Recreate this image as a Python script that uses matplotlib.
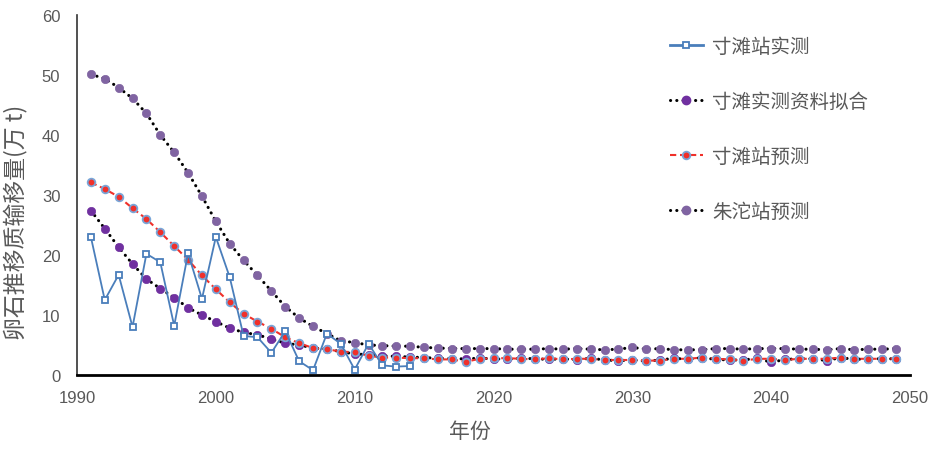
import matplotlib
matplotlib.use("Agg")
import matplotlib.pyplot as plt
from matplotlib.lines import Line2D

plt.rcParams['font.family'] = ['Noto Sans CJK SC', 'DejaVu Sans']

# ---------------- data ----------------
years_obs = list(range(1991, 2015))
cuntan_obs = [23.0, 12.5, 16.7, 8.0, 20.2, 18.8, 8.2, 20.3, 12.7, 23.0,
              16.3, 6.5, 6.3, 3.7, 7.3, 2.3, 0.8, 6.9, 5.2, 0.9,
              5.2, 1.6, 1.4, 1.5]

years_pred = list(range(1991, 2050))
cuntan_fit = [27.4, 24.4, 21.3, 18.5, 16.0, 14.4, 12.9, 11.2, 10.0, 8.9,
              7.8, 7.1, 6.7, 6.0, 5.3, 5.0, 4.5, 4.3, 3.9, 3.5,
              3.4, 3.2, 3.1, 3.0, 2.9, 2.8, 2.7, 2.7, 2.8, 2.7,
              2.6, 2.8, 2.7, 2.6, 2.7, 2.5, 2.8, 2.5, 2.4, 2.5,
              2.3, 2.5, 2.8, 2.6, 2.9, 2.6, 2.5, 2.5, 2.8, 2.1,
              2.6, 2.7, 2.7, 2.4, 2.9, 2.6, 2.7, 2.7, 2.7]
cuntan_pred = [32.1, 31.0, 29.7, 27.8, 26.0, 23.8, 21.5, 19.2, 16.6, 14.3,
               12.1, 10.2, 8.9, 7.7, 6.3, 5.3, 4.5, 4.3, 3.9, 3.8,
               3.2, 2.9, 2.9, 2.8, 2.8, 2.6, 2.6, 2.2, 2.7, 2.8,
               2.8, 2.7, 2.6, 2.8, 2.6, 2.7, 2.7, 2.5, 2.5, 2.5,
               2.4, 2.4, 2.7, 2.7, 2.9, 2.7, 2.6, 2.4, 2.7, 2.7,
               2.5, 2.7, 2.7, 2.7, 2.9, 2.7, 2.7, 2.7, 2.7]
zhutuo_pred = [50.1, 49.4, 47.9, 46.1, 43.6, 40.0, 37.1, 33.7, 29.8, 25.6,
               21.9, 19.1, 16.6, 14.0, 11.4, 9.5, 8.1, 6.9, 5.7, 5.4,
               5.0, 4.9, 4.8, 4.8, 4.6, 4.5, 4.4, 4.4, 4.4, 4.4,
               4.3, 4.3, 4.3, 4.4, 4.3, 4.4, 4.3, 4.2, 4.3, 4.6,
               4.3, 4.4, 4.2, 4.2, 4.2, 4.4, 4.4, 4.3, 4.4, 4.4,
               4.4, 4.3, 4.3, 4.2, 4.4, 4.2, 4.3, 4.3, 4.4]

labels = ['寸滩站实测', '寸滩实测资料拟合', '寸滩站预测', '朱沱站预测']
x_ticks = [1990, 2000, 2010, 2020, 2030, 2040, 2050]
y_ticks = [0, 10, 20, 30, 40, 50, 60]

# ---------------- styles ----------------
BLUE = '#4A7EBB'
DARK_PURPLE = '#7030A0'
LIGHT_PURPLE = '#8064A2'
RED = '#F0302A'
RED_EDGE = '#79A6D8'
GREY = '#595959'
dot_style = (0, (0.05, 2.0))

fig = plt.figure(figsize=(9.35, 4.52), dpi=100)
ax = fig.add_axes([77 / 935, 1 - 376 / 452, (910 - 77) / 935, (376 - 16) / 452])

ax.plot(years_pred, zhutuo_pred, linestyle=dot_style, color='black', lw=2.2,
        dash_capstyle='round', marker='o', ms=6, mfc=LIGHT_PURPLE,
        mec=LIGHT_PURPLE, mew=0.5, zorder=2)
ax.plot(years_pred, cuntan_fit, linestyle=dot_style, color='black', lw=2.2,
        dash_capstyle='round', marker='o', ms=6, mfc=DARK_PURPLE,
        mec=DARK_PURPLE, mew=0.5, zorder=3)
ax.plot(years_pred, cuntan_pred, linestyle=(0, (3, 1.8)), color=RED, lw=1.5,
        marker='o', ms=5.5, mfc=RED, mec=RED_EDGE, mew=1.3, zorder=4)
ax.plot(years_obs, cuntan_obs, linestyle='-', color=BLUE, lw=1.3,
        marker='s', ms=5, mfc='white', mec=BLUE, mew=1.3, zorder=5)

ax.set_xlim(1990, 2050)
ax.set_ylim(0, 60)
ax.set_xticks(x_ticks)
ax.set_yticks(y_ticks)
ax.set_xticklabels([str(v) for v in x_ticks], family='Liberation Sans',
                   fontsize=12, color=GREY)
ax.set_yticklabels([str(v) for v in y_ticks], family='Liberation Sans',
                   fontsize=12, color=GREY)
ax.tick_params(axis='both', length=0)
ax.tick_params(axis='x', pad=11)
ax.tick_params(axis='y', pad=12)

for s in ['top', 'right']:
    ax.spines[s].set_visible(False)
ax.spines['left'].set_color('#333333')
ax.spines['left'].set_linewidth(1.2)
ax.spines['bottom'].set_color('black')
ax.spines['bottom'].set_linewidth(2.0)

ax.set_xlabel('年份', fontsize=15, color=GREY)
ax.set_ylabel('卵石推移质输移量(万 t)', fontsize=16.5, color=GREY)
ax.xaxis.set_label_coords((470 - 77) / 833, (376 - 421) / 360)
ax.yaxis.set_label_coords((27 - 77) / 833, (376 - 222) / 360)

handles = [
    Line2D([], [], linestyle='-', color=BLUE, lw=2, marker='s', ms=5,
           mfc='white', mec=BLUE, mew=1.3),
    Line2D([], [], linestyle=dot_style, color='black', lw=2.2,
           dash_capstyle='round', marker='o', ms=6, mfc=DARK_PURPLE,
           mec=DARK_PURPLE),
    Line2D([], [], linestyle=(0, (3, 1.8)), color=RED, lw=1.5, marker='o',
           ms=5.5, mfc=RED, mec=RED_EDGE, mew=1.3),
    Line2D([], [], linestyle=dot_style, color='black', lw=2.2,
           dash_capstyle='round', marker='o', ms=6, mfc=LIGHT_PURPLE,
           mec=LIGHT_PURPLE),
]
leg = fig.legend(handles, labels, loc='upper left',
                 bbox_to_anchor=(652 / 935, 1 - 19 / 452), frameon=False,
                 fontsize=14, labelspacing=1.75, handlelength=1.7,
                 handletextpad=0.5, numpoints=1)
for t in leg.get_texts():
    t.set_color(GREY)

fig.savefig('out.png', dpi=100)
